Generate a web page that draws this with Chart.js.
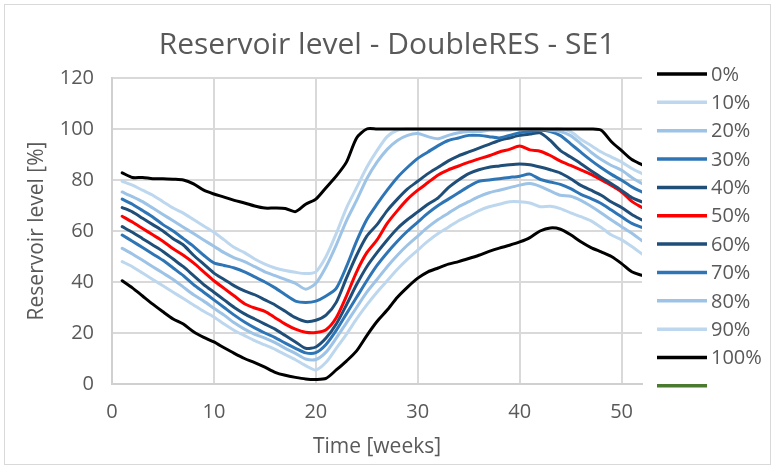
<!DOCTYPE html>
<html>
<head>
<meta charset="utf-8">
<script src="https://cdn.jsdelivr.net/npm/chart.js@4.4.0/dist/chart.umd.min.js"></script>
<style>
  html, body { margin: 0; padding: 0; background: #ffffff; }
  canvas { display: block; }
</style>
</head>
<body>
<canvas id="chart" width="777" height="467"></canvas>
<script>
// Weekly reservoir level percentiles, DoubleRES model, area SE1
const weeks = [1,2,3,4,5,6,7,8,9,10,11,12,13,14,15,16,17,18,19,20,21,22,23,24,25,26,
               27,28,29,30,31,32,33,34,35,36,37,38,39,40,41,42,43,44,45,46,47,48,49,50,51,52];

const p0 = [40.5,37.7,34.5,31.3,28.3,25.5,23.5,20.5,18.3,16.5,
            14.2,12,10,8.4,6.6,4.6,3.4,2.6,2,1.8,
            2.2,5.5,9,13,19,24.5,29,34,38,41.5,
            44,45.5,47,48,49.2,50.5,52,53.3,54.4,55.7,
            57.4,60,61.2,60.7,58.5,55.8,53.5,51.8,50,47.2,
            44,42.6];
const p10 = [48,46,43.5,41,38.5,36,33.5,31,28.5,26.3,
             23.5,21,19,17,15.3,13.6,11.5,9.5,7.2,5.5,
             8.5,14,19.5,25.5,31,36,40.5,45,49,52.5,
             56,59,61.5,64,66,68,69.5,70.5,71.5,71.5,
             71,69.5,69.7,68.8,67.1,65.6,64,61.4,58.4,56.5,
             53.9,51];
const p20 = [53.2,51,48.5,46,43.5,41,38,35,32.5,29.7,
             27,24,21.5,19.5,18,16.2,14,12,9.8,9.6,
             12.5,18,24,30,36,41,46,50.5,54.5,58,
             61.5,64.5,67,69.5,71.5,73.5,75,76,77,78,
             78.6,77.5,75.7,74,73.6,72,69.7,67.1,64.3,61.7,
             59.1,56.2];
const p30 = [58.4,56,53.5,51,48.5,45.5,42.5,39,36,33,
             30,27,24.3,22,20,18.2,16,14,12.2,12.3,
             15.5,21,27.5,34,40.5,46.5,51.5,56,60,63.5,
             67,70,72.5,75,77.5,79.5,80,80.5,81,81.5,
             82.3,80.3,79.2,78.3,76.6,74.4,72.7,70.8,68.2,65.6,
             63,61.4];
const p40 = [61.7,59.5,57,54.5,52,49,46,42.5,39,36,
             33,30,27.5,25.5,23.5,21.5,19,16.5,14,14.5,
             18,23.5,31,39,46,51.5,56.5,61,64.5,67.5,
             70.5,73,77,80,82.5,84,85,85.5,86,86.3,
             86,85.1,84,82.7,80.5,77.9,76,74,71.4,69.2,
             66.5,64.3];
const p50 = [65.8,63.5,61,58.5,56,53,50.5,47.5,44,40.5,
             37.5,34.5,31.5,29.8,28.5,26,23.5,21.5,20.3,20.2,
             21.3,26,34.5,44,51.5,56.5,63,68,72.5,76,
             79,82,84,85.5,87,88.3,89.5,91,92,93.3,
             91.8,91.3,89.6,87.4,85.7,84,82.2,80.1,77.9,75.3,
             71.6,69.2];
const p60 = [69.2,67.5,65,62.5,60,57,54.5,50.5,47,43.5,
             41,38.5,36.5,35,33,31,28.5,26,24.5,25,
             27,32,41.5,50.5,58,62.5,68,72.5,76.5,79.5,
             82.5,85,87.5,89.5,91,92.5,94,95.5,96.5,97.5,
             98,98.5,95.5,91.5,89,86.4,83.6,81,78.5,75.9,
             73.1,71.4];
const p70 = [72.5,70.5,68,65.5,62.5,60,57,54,50.5,47.5,
             46.5,45.5,44,42,40,37.7,35,32.5,32,32.5,
             34.5,37.5,46,56,64.5,70.5,76,81,85,88.5,
             91,93.5,95.5,96.5,97.5,97.5,97,96.5,97.5,98.5,
             99,99.5,99,97.4,94.2,90.9,87.7,84.8,82.2,79.9,
             77.3,75.3];
const p80 = [75.3,73.5,71.5,69,66.5,64,61.5,59,56.5,54,
             51.5,49.5,48,46,44,42.5,41,39.5,37.2,39.5,
             46,54.5,64,72,80.5,87,92,95.5,97.5,98.2,
             97,96.2,97.5,98.5,99,99,99.5,99.5,99.5,100,
             100,100,99.5,99,97.4,94.2,90.9,88,85.7,83.8,
             81,78.6];
const p90 = [79.5,78,76,74,71.5,69,67,64.5,62,59.5,
             56.5,53.5,51.5,49,47,45.5,44.5,43.8,43.3,44,
             50,59,69,77,85,91.5,97,99.5,100,100,
             100,100,100,100,100,100,100,100,100,100,
             100,100,100,100,99,96,93.5,91,89,87,
             84.5,82.5];
const p100 = [82.8,81,81,80.5,80.5,80.3,80,78.5,76,74.5,
              73.3,72,71,69.8,69,69,68.8,67.6,70.5,72.5,
              77,81.5,87,96.5,100,100,100,100,100,100,
              100,100,100,100,100,100,100,100,100,100,
              100,100,100,100,100,100,100,99.5,95,91.5,
              88,86];

const seriesNames = ['0%','10%','20%','30%','40%','50%','60%','70%','80%','90%','100%',''];
const seriesValues = [p0,p10,p20,p30,p40,p50,p60,p70,p80,p90,p100,[]];
const seriesColors = ['#000000','#bdd7ee','#9dc3e6','#2e75b6','#1f4e79','#ff0000',
                      '#1f4e79','#2e75b6','#9dc3e6','#bdd7ee','#000000','#4a7a30'];

const yTicks = [0,20,40,60,80,100,120];
const xTicks = [0,10,20,30,40,50];

const FONT = "'Open Sans', 'DejaVu Sans', sans-serif";
const TEXT = '#595959';

const datasets = seriesNames.map((name, i) => ({
  label: name,
  data: seriesValues[i].map((v, k) => ({ x: weeks[k], y: v })),
  borderColor: seriesColors[i],
  backgroundColor: seriesColors[i],
  // later percentiles are painted over earlier ones
  order: 20 - i
}));

// Frame, title and the legend column at the right
const decor = {
  id: 'decor',
  afterDraw(chart) {
    const ctx = chart.ctx;
    ctx.save();
    ctx.strokeStyle = '#d9d9d9';
    ctx.lineWidth = 1;
    ctx.strokeRect(4.5, 4.5, 766, 460);

    ctx.fillStyle = TEXT;
    ctx.font = '30px ' + FONT;
    ctx.textAlign = 'center';
    ctx.textBaseline = 'middle';
    ctx.fillText('Reservoir level - DoubleRES - SE1', 387, 45);

    ctx.font = '20px ' + FONT;
    ctx.textAlign = 'left';
    chart.data.datasets.forEach((ds, i) => {
      const y = 74 + i * 28.35;
      ctx.strokeStyle = ds.borderColor;
      ctx.lineWidth = 3.5;
      ctx.beginPath();
      ctx.moveTo(657, y);
      ctx.lineTo(707, y);
      ctx.stroke();
      ctx.fillStyle = TEXT;
      ctx.fillText(ds.label, 711, y + 1);
    });
    ctx.restore();
  }
};

function draw() {
  new Chart(document.getElementById('chart'), {
    type: 'line',
    data: { datasets },
    plugins: [decor],
    options: {
      responsive: false,
      animation: false,
      layout: { padding: { top: 78, right: 135, bottom: 0, left: 0 } },
      plugins: { legend: { display: false }, tooltip: { enabled: false } },
      elements: {
        point: { radius: 0 },
        line: { borderWidth: 3, tension: 0.25, borderCapStyle: 'round', borderJoinStyle: 'round' }
      },
      scales: {
        x: {
          type: 'linear',
          min: 0, max: 52,
          afterFit: s => { s.height = 83; },
          afterBuildTicks: s => { s.ticks = xTicks.map(v => ({ value: v })); },
          ticks: { padding: 16, color: TEXT, font: { family: FONT, size: 20 } },
          grid: { color: '#d9d9d9', lineWidth: 2, drawTicks: false },
          border: { color: '#d0d0d0', width: 2 },
          title: {
            display: true, text: 'Time [weeks]', color: TEXT,
            font: { family: FONT, size: 21 }, padding: { top: 4, bottom: 7 }
          }
        },
        y: {
          min: 0, max: 120,
          afterFit: s => { s.width = 112; },
          afterBuildTicks: s => { s.ticks = yTicks.map(v => ({ value: v })); },
          ticks: { padding: 18, color: TEXT, font: { family: FONT, size: 20 } },
          grid: { color: '#d9d9d9', lineWidth: 2, drawTicks: false },
          border: { color: '#d0d0d0', width: 2 },
          title: {
            display: true, text: 'Reservoir level [%]', color: TEXT,
            font: { family: FONT, size: 21 }, padding: { top: 24, bottom: 0 }
          }
        }
      }
    }
  });
}

if (document.fonts && document.fonts.load) {
  document.fonts.load('20px "Open Sans"').then(draw, draw);
} else {
  draw();
}
</script>
</body>
</html>
